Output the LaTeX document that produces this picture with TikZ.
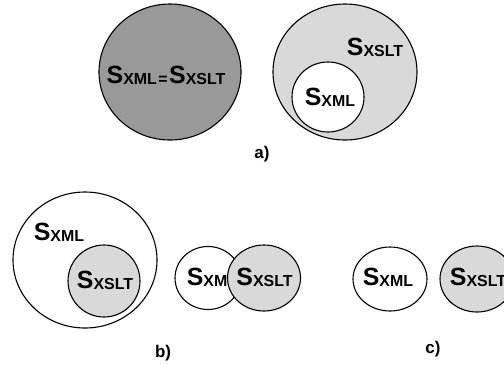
\documentclass[tikz,border=0pt]{standalone}
\usepackage{fontspec}
\setmainfont{Liberation Sans}
\newcommand{\setS}[1]{{\fontsize{25}{25}\selectfont S}{\fontsize{16}{16}\selectfont\raisebox{-1pt}{#1}}}
\begin{document}
\begin{tikzpicture}[x=1bp,y=-1bp,
  setline/.style={line width=1.1bp,draw=black},
  darkset/.style={setline,fill=black!40},
  lightset/.style={setline,fill=black!15},
  whiteset/.style={setline,fill=white},
  setlabel/.style={anchor=base,inner sep=0pt,font=\bfseries},
  caption/.style={anchor=center,inner sep=0pt,font=\fontsize{17}{17}\selectfont\bfseries}]
\useasboundingbox (0,0) rectangle (504,364);
\clip (0,0) rectangle (504,364);

% a) equal sets
\draw[darkset] (170,72) ellipse [x radius=71, y radius=68];
\node[setlabel] (aeq) at (166,83) {\setS{XML}{\fontsize{16}{16}\selectfont\raisebox{-1pt}{\kern1.5pt=\kern1.5pt}}\setS{XSLT}};

% a) XML contained in XSLT
\draw[lightset] (345,72) ellipse [x radius=72, y radius=68];
\draw[whiteset] (328,97) ellipse [x radius=36, y radius=35];
\node[setlabel] (axslt) at (375,55) {\setS{XSLT}};
\node[setlabel] (axml) at (330,105) {\setS{XML}};
\node[caption] (capa) at (262,154) {a)};

% b) XSLT contained in XML
\draw[whiteset] (85,260) ellipse [x radius=72, y radius=68];
\draw[lightset] (104,281) ellipse [x radius=36, y radius=36];
\node[setlabel] (bxml) at (59,240) {\setS{XML}};
\node[setlabel] (bxslt) at (105,288) {\setS{XSLT}};

% b) overlapping sets
\draw[whiteset] (208,278) ellipse [x radius=33, y radius=31.5];
\node[setlabel] (oxml) at (212,285) {\setS{XML}};
\draw[lightset] (264,278) ellipse [x radius=36.5, y radius=33];
\node[setlabel] (oxslt) at (264.5,285) {\setS{XSLT}};
\node[caption] (capb) at (163,353) {b)};

% c) disjoint sets
\draw[whiteset] (390,279) ellipse [x radius=37, y radius=32];
\node[setlabel] (cxml) at (388,285) {\setS{XML}};
\draw[lightset] (477,279) ellipse [x radius=37, y radius=33];
\node[setlabel] (cxslt) at (478,285) {\setS{XSLT}};
\node[caption] (capc) at (433,349) {c)};
\end{tikzpicture}
\end{document}
